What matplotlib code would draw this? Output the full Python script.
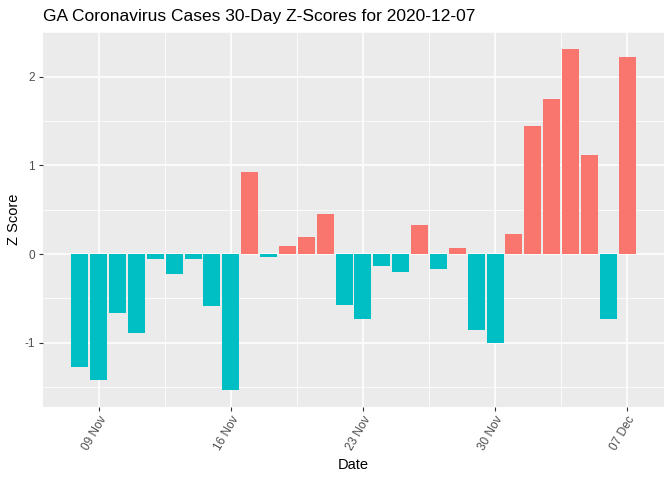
#!/usr/bin/env python3

import pandas as pd
import numpy as np
import matplotlib.pyplot as plt
import matplotlib.dates as mdates


# days shown in the chart (30 days ending on the report date)
dates = pd.date_range('2020-11-08', '2020-12-07', freq='D')

# z scores
z_scores = [
	-1.27, -1.42, -0.66, -0.89, -0.06, -0.23, -0.06, -0.59, -1.53, 0.93,
	-0.03, 0.09, 0.19, 0.45, -0.57, -0.73, -0.13, -0.20, 0.33, -0.17,
	0.07, -0.86, -1.00, 0.23, 1.44, 1.75, 2.31, 1.12, -0.73, 2.22,
]

tick_dates = pd.to_datetime(['2020-11-09', '2020-11-16', '2020-11-23', '2020-11-30', '2020-12-07'])
tick_labels = ['09 Nov', '16 Nov', '23 Nov', '30 Nov', '07 Dec']
minor_dates = pd.to_datetime(['2020-11-12 12:00', '2020-11-19 12:00', '2020-11-26 12:00', '2020-12-03 12:00'])

y_ticks = [-1, 0, 1, 2]
y_minor = [-1.5, -0.5, 0.5, 1.5, 2.5]

title = 'GA Coronavirus Cases 30-Day Z-Scores for 2020-12-07'


# draw the bar chart in a ggplot-like style
def plot_graph():
	plt.rcParams['font.family'] = ['Liberation Sans', 'DejaVu Sans']

	fig = plt.figure(figsize=(6.72, 4.8), dpi=100)
	W, H = 672, 480
	# panel placement in pixels: left, top, right, bottom
	left, top, right, bottom = 43, 32.3, 664, 406.7
	ax = fig.add_axes([left / W, (H - bottom) / H, (right - left) / W, (bottom - top) / H])
	ax.set_facecolor('#EBEBEB')

	z = np.array(z_scores)
	colors = np.where(z > 0, '#F8766D', '#00BFC4')
	ax.bar(dates, z, width=0.9, color=colors, zorder=3)

	# grid lines
	for d in minor_dates:
		ax.axvline(d, color='white', lw=0.55, zorder=1)
	for d in tick_dates:
		ax.axvline(d, color='white', lw=1.1, zorder=1)
	for y in y_minor:
		ax.axhline(y, color='white', lw=0.55, zorder=1)
	for y in y_ticks:
		ax.axhline(y, color='white', lw=1.1, zorder=1)

	# axis ranges with ggplot expansion
	x0 = mdates.date2num(dates[0]) - 0.45
	x1 = mdates.date2num(dates[-1]) + 0.45
	pad = (x1 - x0) * 0.05
	ax.set_xlim(x0 - pad, x1 + pad)
	ymin, ymax = z.min(), z.max()
	ypad = (ymax - ymin) * 0.05
	ax.set_ylim(ymin - ypad, ymax + ypad)

	ax.set_xticks(tick_dates)
	ax.set_xticklabels(tick_labels, rotation=60, ha='right', va='top',
		rotation_mode='anchor', color='#4D4D4D', fontsize=8.5)
	ax.set_yticks(y_ticks)
	ax.set_yticklabels([str(v) for v in y_ticks], color='#4D4D4D', fontsize=8.5)
	ax.tick_params(axis='both', length=3, width=0.8, color='#333333', pad=3)
	ax.tick_params(axis='x', pad=2)

	for s in ax.spines.values():
		s.set_visible(False)

	ax.set_xlabel('Date', fontsize=10.5, labelpad=4)
	ax.set_ylabel('Z Score', fontsize=10.5, labelpad=2)
	fig.text(left / W, 1 - 16 / H, title, fontsize=12.5, ha='left', va='center')

	fig.savefig('out.png', dpi=100)


def main():
	plot_graph()
	return


if __name__ == '__main__':
	main()
